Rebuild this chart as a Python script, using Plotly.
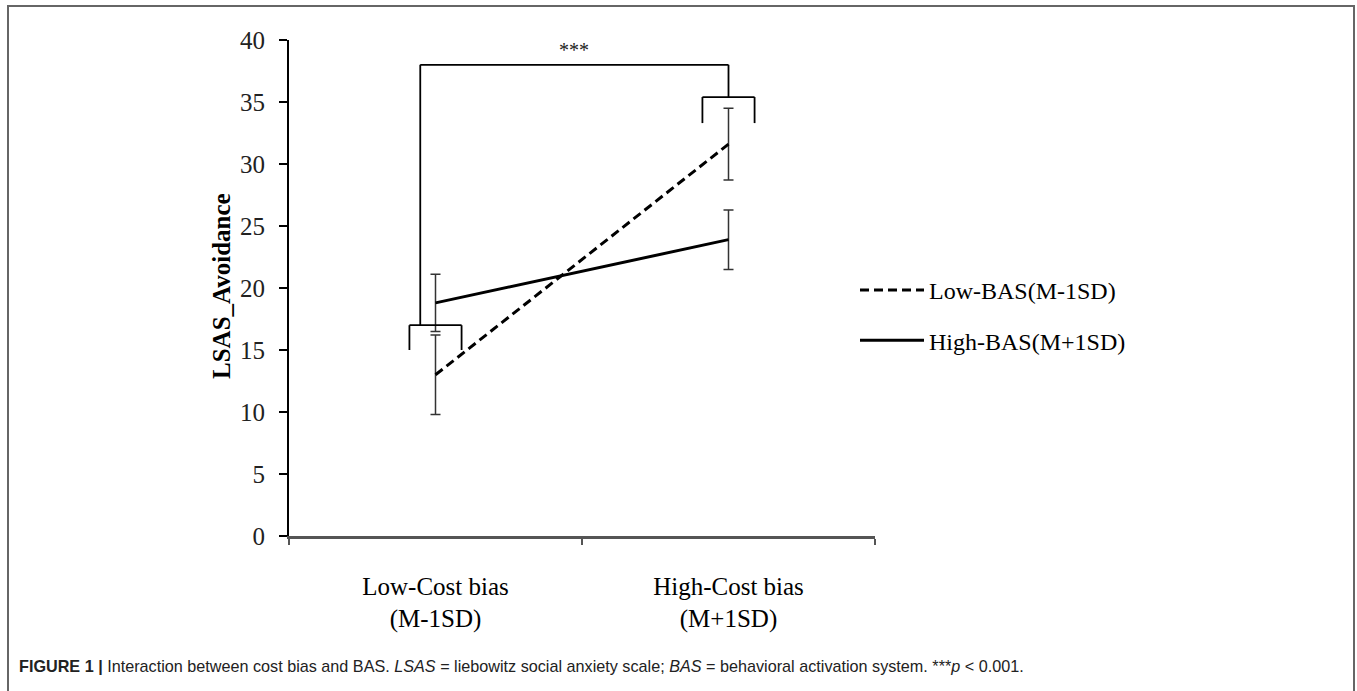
import plotly.graph_objects as go

# ---------------- data ----------------
categories = ["Low-Cost bias<br>(M-1SD)", "High-Cost bias<br>(M+1SD)"]
category_pos = [0, 1]
series_names = ["Low-BAS(M-1SD)", "High-BAS(M+1SD)"]
low_bas = [13.0, 31.6]
low_bas_err = [3.2, 2.9]
high_bas = [18.8, 23.9]
high_bas_err = [2.3, 2.4]
y_ticks = [0, 5, 10, 15, 20, 25, 30, 35, 40]
y_title = "LSAS_Avoidance"

# significance bracket (data units)
bracket_x = [-0.052, 1.0]
bracket_top = 38.0
bracket_half = 0.089
left_cap = [17.0, 15.0]    # [horizontal level, leg bottom]
right_cap = [35.4, 33.3]
sig_label = "***"
sig_label_y = 39.2

caption = ("<b>FIGURE 1 |</b> Interaction between cost bias and BAS. <i>LSAS</i> = liebowitz social "
           "anxiety scale; <i>BAS</i> = behavioral activation system. ***<i>p</i> &lt; 0.001.")

# ---------------- layout constants ----------------
W, H = 1357, 691
PX_L, PX_R, PX_T, PX_B = 289, 875, 40, 536
SERIF = "Liberation Serif, Times New Roman, serif"

fig = go.Figure()

fig.add_trace(go.Scatter(
    x=category_pos, y=low_bas, name=series_names[0], mode="lines",
    line=dict(color="black", width=3, dash="9px,5px"),
    error_y=dict(type="data", array=low_bas_err, color="#333", thickness=1.5, width=5),
    legendgroup="a",
))
fig.add_trace(go.Scatter(
    x=category_pos, y=high_bas, name=series_names[1], mode="lines",
    line=dict(color="black", width=3),
    error_y=dict(type="data", array=high_bas_err, color="#333", thickness=1.5, width=5),
    legendgroup="b",
))

line_style = dict(color="black", width=1.8)
shapes = []
shapes.append(dict(type="line", xref="x", yref="y", x0=bracket_x[0], x1=bracket_x[0],
                   y0=left_cap[0], y1=bracket_top, line=line_style))
shapes.append(dict(type="line", xref="x", yref="y", x0=bracket_x[0], x1=bracket_x[1],
                   y0=bracket_top, y1=bracket_top, line=line_style))
shapes.append(dict(type="line", xref="x", yref="y", x0=bracket_x[1], x1=bracket_x[1],
                   y0=right_cap[0], y1=bracket_top, line=line_style))
for cx, cap in ((category_pos[0], left_cap), (category_pos[1], right_cap)):
    shapes.append(dict(type="line", xref="x", yref="y", x0=cx - bracket_half, x1=cx + bracket_half,
                       y0=cap[0], y1=cap[0], line=line_style))
    shapes.append(dict(type="line", xref="x", yref="y", x0=cx - bracket_half, x1=cx - bracket_half,
                       y0=cap[1], y1=cap[0], line=line_style))
    shapes.append(dict(type="line", xref="x", yref="y", x0=cx + bracket_half, x1=cx + bracket_half,
                       y0=cap[1], y1=cap[0], line=line_style))
shapes.append(dict(type="rect", xref="paper", yref="paper", x0=8 / W, x1=1354 / W,
                   y0=-0.05, y1=1 - 6 / H, line=dict(color="#666", width=2), layer="below"))

annotations = [
    dict(text=sig_label, xref="x", yref="y", x=sum(bracket_x) / 2, y=sig_label_y,
         showarrow=False, font=dict(family=SERIF, size=20, color="#222"), yanchor="middle"),
    dict(text="<b>" + y_title + "</b>", xref="paper", yref="paper", x=221 / W, xanchor="center",
         y=1 - 286 / H, yanchor="middle", textangle=-90, showarrow=False,
         font=dict(family=SERIF, size=25, color="black")),
    dict(text=caption, xref="paper", yref="paper", x=17 / W, y=1 - 666 / H,
         xanchor="left", yanchor="middle", showarrow=False, align="left",
         font=dict(family="Liberation Sans, Arial, sans-serif", size=16.2, color="#222")),
]

fig.update_layout(
    width=W, height=H,
    margin=dict(l=0, r=0, t=0, b=0),
    paper_bgcolor="white", plot_bgcolor="white",
    shapes=shapes, annotations=annotations,
    showlegend=True,
    legend=dict(x=855 / W, y=1 - 268 / H, xanchor="left", yanchor="top",
                font=dict(family=SERIF, size=24, color="black"),
                traceorder="grouped", tracegroupgap=16, itemwidth=64,
                bgcolor="rgba(0,0,0,0)"),
    xaxis=dict(domain=[PX_L / W, PX_R / W], range=[-0.5, 1.5], tickmode="array",
               tickvals=category_pos, ticktext=categories, ticks="", showgrid=False,
               zeroline=False, showline=True, linecolor="#555", linewidth=2.5,
               tickfont=dict(family=SERIF, size=25, color="black"),
               ticklabelstandoff=26, automargin=False,
               minor=dict(tickmode="array", tickvals=[-0.5, 0.5, 1.5], ticks="outside",
                          ticklen=6, tickwidth=1.5, tickcolor="#555", showgrid=False)),
    yaxis=dict(domain=[1 - PX_B / H, 1 - PX_T / H], range=[0, 40], tickmode="array",
               tickvals=y_ticks, ticks="outside", ticklen=8, tickwidth=1.5, tickcolor="black",
               showgrid=False, zeroline=False, showline=True, linecolor="black", linewidth=2,
               tickfont=dict(family=SERIF, size=25, color="#222"),
               ticklabelstandoff=9, automargin=False),
)

fig.write_html("out.html", config={"displayModeBar": False, "staticPlot": True},
               post_script="document.body.style.margin='0';document.body.style.overflow='hidden';")
